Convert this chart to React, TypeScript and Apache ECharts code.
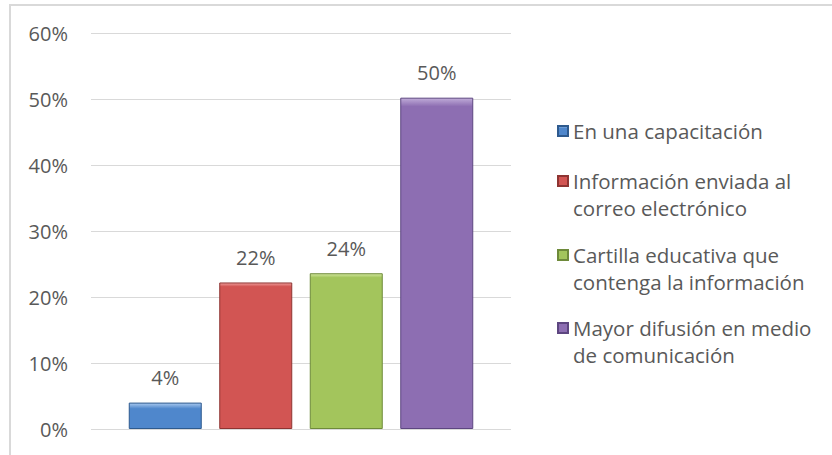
import React, { useEffect, useRef } from "react";
import * as echarts from "echarts";

const categories = [
  "En una capacitación",
  "Información enviada al correo electrónico",
  "Cartilla educativa que contenga la información",
  "Mayor difusión en medio de comunicación",
];
const legendLines = [
  ["En una capacitación"],
  ["Información enviada al", "correo electrónico"],
  ["Cartilla educativa que", "contenga la información"],
  ["Mayor difusión en medio", "de comunicación"],
];
const values = [0.04, 0.222, 0.236, 0.502];
const yMin = 0;
const yMax = 0.6;
const yInterval = 0.1;

const baseColors = ["#4f87cc", "#d25553", "#a3c55c", "#8d6eb2"];
const lightColors = ["#a9c9ef", "#ee9e9c", "#d2e79f", "#c0acd8"];
const darkColors = ["#2e5a8e", "#8e3432", "#6e8a3a", "#5d4680"];
const legendTops = [117.5, 140.5, 214.5, 287.5];

const pct = (v: number) => Math.round(v * 100) + "%";

export default function App() {
  const ref = useRef<HTMLDivElement>(null);
  useEffect(() => {
    if (!ref.current) return;
    const chart = echarts.init(ref.current, null, { renderer: "svg" });
    const font = "'Open Sans', 'DejaVu Sans', sans-serif";
    const series = categories.map((name, i) => ({
      name,
      type: "bar",
      xAxisIndex: 1,
      yAxisIndex: 1,
      stack: "all",
      barWidth: 73,
      data: values.map((v, j) => (j === i ? v : "-")),
      itemStyle: {
        color: {
          type: "linear",
          x: 0,
          y: 0,
          x2: 0,
          y2: 1,
          colorStops: [
            { offset: 0, color: lightColors[i] },
            { offset: i === 0 ? 0.22 : 0.025, color: baseColors[i] },
            { offset: 1, color: baseColors[i] },
          ],
        },
        borderColor: darkColors[i],
        borderWidth: 1,
      },
      label: {
        show: true,
        position: "top",
        distance: 15,
        formatter: (p: any) => pct(p.value),
        color: "#595959",
        fontSize: 20,
        fontFamily: font,
      },
    }));
    const legends = categories.map((name, i) => ({
      data: [name],
      orient: "vertical",
      left: 557,
      top: legendTops[i],
      padding: 0,
      icon: "rect",
      itemWidth: 10,
      itemHeight: 10,
      itemGap: 0,
      selectedMode: false,
      formatter: () =>
        legendLines[i].length > 1 ? " \n" + legendLines[i].join("\n") : legendLines[i][0],
      textStyle: {
        color: "#595959",
        fontSize: 20.5,
        fontFamily: font,
        lineHeight: 27,
      },
    }));
    chart.setOption({
      animation: false,
      backgroundColor: "#ffffff",
      textStyle: { fontFamily: font },
      grid: [
        { left: 91, width: 420, top: 33, height: 396 },
        { left: 120, width: 362, top: 33, height: 396 },
      ],
      xAxis: [
        { type: "value", gridIndex: 0, show: false, min: 0, max: 1 },
        {
          type: "category",
          gridIndex: 1,
          data: categories,
          axisLine: { show: false },
          axisTick: { show: false },
          axisLabel: { show: false },
        },
      ],
      yAxis: [
        {
          type: "value",
          gridIndex: 0,
          min: yMin,
          max: yMax,
          interval: yInterval,
          axisLine: { show: false },
          axisTick: { show: false },
          axisLabel: {
            formatter: (v: number) => pct(v),
            color: "#595959",
            fontSize: 20,
            fontFamily: font,
            margin: 23,
          },
          splitLine: { show: true, lineStyle: { color: "#d9d9d9", width: 1 } },
        },
        { type: "value", gridIndex: 1, min: yMin, max: yMax, interval: yInterval, show: false },
      ],
      legend: legends,
      series,
      graphic: [
        {
          type: "rect",
          shape: { x: 10, y: 5, width: 900, height: 500 },
          style: { fill: "none", stroke: "#d9d9d9", lineWidth: 2 },
          silent: true,
        },
      ],
    });
    return () => chart.dispose();
  }, []);
  return (
    <div
      ref={ref}
      style={{ position: "fixed", left: 0, top: 0, width: 832, height: 455 }}
    />
  );
}
